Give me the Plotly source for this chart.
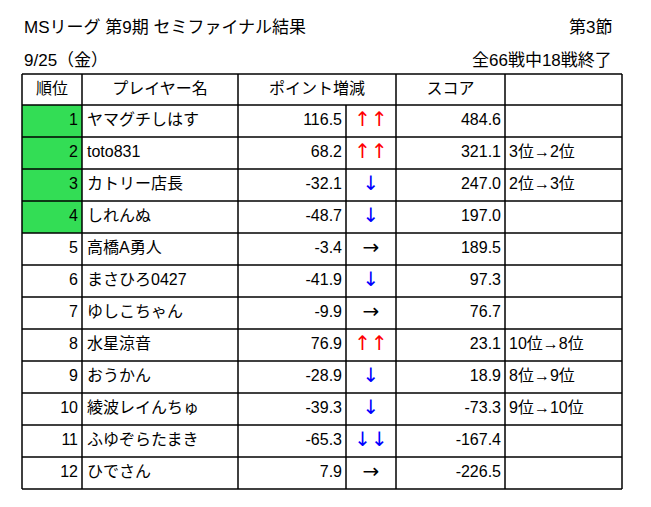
import plotly.graph_objects as go

# table data
ranks = list(range(1, 13))
players = ["ヤマグチしはす", "toto831", "カトリー店長", "しれんぬ", "高橋A勇人", "まさひろ0427",
           "ゆしこちゃん", "水星涼音", "おうかん", "綾波レイんちゅ", "ふゆぞらたまき", "ひでさん"]
points = [116.5, 68.2, -32.1, -48.7, -3.4, -41.9, -9.9, 76.9, -28.9, -39.3, -65.3, 7.9]
arrows = ["↑↑", "↑↑", "↓", "↓", "→", "↓", "→", "↑↑", "↓", "↓", "↓↓", "→"]
scores = [484.6, 321.1, 247.0, 197.0, 189.5, 97.3, 76.7, 23.1, 18.9, -73.3, -167.4, -226.5]
notes = ["", "3位→2位", "2位→3位", "", "", "", "", "10位→8位", "8位→9位", "9位→10位", "", ""]
headers = ["順位", "プレイヤー名", "ポイント増減", "スコア"]
highlight_ranks = 4

FONT = "Liberation Sans, Noto Sans CJK JP, sans-serif"
off = 8  # page body margin
top, hdr_h, row_h = 74 - off, 31, 32
cols = [c - off for c in [22, 82, 238, 346, 396, 505, 622]]
row_y = [top + hdr_h + row_h * (i + 0.5) for i in range(len(ranks))]
bottom = top + hdr_h + row_h * len(ranks)
arrow_color = {"↑↑": "red", "↓": "blue", "↓↓": "blue", "→": "black"}

fig = go.Figure()
txt = dict(mode="text", textfont=dict(size=16, family=FONT, color="black"),
           hoverinfo="skip", showlegend=False)
fig.add_trace(go.Scatter(x=[cols[1] - 4] * len(ranks), y=row_y, text=[str(r) for r in ranks],
                         textposition="middle left", **txt))
fig.add_trace(go.Scatter(x=[cols[1] + 5] * len(players), y=row_y, text=players,
                         textposition="middle right", **txt))
fig.add_trace(go.Scatter(x=[cols[3] - 4] * len(points), y=row_y, text=[f"{p:.1f}" for p in points],
                         textposition="middle left", **txt))
fig.add_trace(go.Scatter(x=[(cols[3] + cols[4]) / 2] * len(arrows), y=row_y, text=arrows,
                         mode="text", hoverinfo="skip", showlegend=False, textposition="middle center",
                         textfont=dict(size=20, family="DejaVu Sans", color=[arrow_color[a] for a in arrows])))
fig.add_trace(go.Scatter(x=[cols[5] - 4] * len(scores), y=row_y, text=[f"{s:.1f}" for s in scores],
                         textposition="middle left", **txt))
fig.add_trace(go.Scatter(x=[cols[5] + 4] * len(notes), y=row_y, text=notes,
                         textposition="middle right", **txt))
hx = [(cols[0] + cols[1]) / 2, (cols[1] + cols[2]) / 2, (cols[2] + cols[4]) / 2, (cols[4] + cols[5]) / 2]
fig.add_trace(go.Scatter(x=hx, y=[top + hdr_h / 2] * 4, text=headers,
                         textposition="middle center", **txt))

shapes = []
for i in range(highlight_ranks):
    y0 = top + hdr_h + row_h * i
    shapes.append(dict(type="rect", x0=cols[0], x1=cols[1], y0=y0, y1=y0 + row_h,
                       fillcolor="#33dd55", line_width=0, layer="below"))
line = dict(color="black", width=1.5)
for y in [top] + [top + hdr_h + row_h * i for i in range(len(ranks) + 1)]:
    shapes.append(dict(type="line", x0=cols[0], x1=cols[-1], y0=y, y1=y, line=line))
for x in cols:
    y0 = top + hdr_h if x == cols[3] else top
    shapes.append(dict(type="line", x0=x, x1=x, y0=y0, y1=bottom, line=line))

ann = dict(showarrow=False, font=dict(size=17, family=FONT, color="black"), yanchor="middle")
annotations = [
    dict(x=22 - off, y=27 - off, text="MSリーグ 第9期 セミファイナル結果", xanchor="left", **ann),
    dict(x=614 - off, y=27 - off, text="第3節", xanchor="right", **ann),
    dict(x=22 - off, y=60 - off, text="9/25（金）", xanchor="left", **ann),
    dict(x=614 - off, y=60 - off, text="全66戦中18戦終了", xanchor="right", **ann),
]

fig.update_layout(
    width=651, height=507, margin=dict(l=0, r=0, t=0, b=0),
    paper_bgcolor="white", plot_bgcolor="white",
    xaxis=dict(range=[0, 651], visible=False, fixedrange=True),
    yaxis=dict(range=[507, 0], visible=False, fixedrange=True),
    shapes=shapes, annotations=annotations,
)
fig.write_html("out.html")
